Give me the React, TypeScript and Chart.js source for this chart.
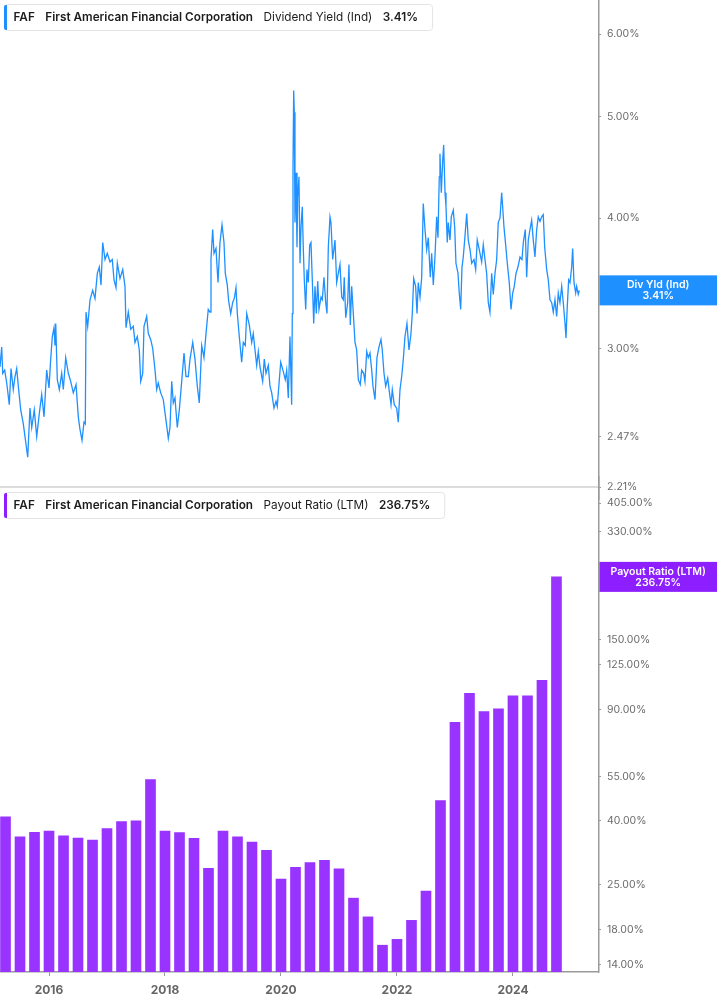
import React, { useEffect, useRef } from 'react';
import { Chart, registerables } from 'chart.js';

Chart.register(...registerables);
Chart.defaults.font.family = 'Inter';

// ---------- Dividend yield (Ind), % ----------
const yieldDates = [
  2015.155, 2015.184, 2015.202, 2015.236, 2015.271, 2015.315, 2015.345, 2015.384, 2015.414, 2015.443,
  2015.471, 2015.512, 2015.557, 2015.586, 2015.633, 2015.672, 2015.702, 2015.746, 2015.788, 2015.833,
  2015.874, 2015.914, 2015.960, 2016.000, 2016.029, 2016.057, 2016.086, 2016.103, 2016.116, 2016.143,
  2016.178, 2016.219, 2016.247, 2016.288, 2016.333, 2016.374, 2016.419, 2016.466, 2016.505, 2016.534,
  2016.569, 2016.603, 2016.626, 2016.638, 2016.667, 2016.707, 2016.753, 2016.793, 2016.833, 2016.867,
  2016.897, 2016.926, 2016.966, 2017.005, 2017.052, 2017.091, 2017.121, 2017.155, 2017.178, 2017.224,
  2017.271, 2017.310, 2017.328, 2017.367, 2017.409, 2017.453, 2017.483, 2017.522, 2017.557, 2017.581,
  2017.616, 2017.638, 2017.684, 2017.712, 2017.753, 2017.788, 2017.828, 2017.857, 2017.884, 2017.926,
  2017.971, 2018.017, 2018.057, 2018.086, 2018.116, 2018.143, 2018.172, 2018.212, 2018.247, 2018.288,
  2018.328, 2018.362, 2018.402, 2018.431, 2018.478, 2018.517, 2018.557, 2018.591, 2018.633, 2018.672,
  2018.707, 2018.746, 2018.776, 2018.793, 2018.822, 2018.845, 2018.879, 2018.914, 2018.948, 2018.983,
  2019.017, 2019.040, 2019.074, 2019.098, 2019.133, 2019.167, 2019.195, 2019.224, 2019.247, 2019.281,
  2019.322, 2019.350, 2019.384, 2019.409, 2019.453, 2019.495, 2019.522, 2019.552, 2019.581, 2019.609,
  2019.638, 2019.684, 2019.712, 2019.741, 2019.781, 2019.810, 2019.840, 2019.879, 2019.914, 2019.936,
  2019.971, 2019.995, 2020.040, 2020.074, 2020.098, 2020.126, 2020.155, 2020.184, 2020.195, 2020.207,
  2020.219, 2020.229, 2020.241, 2020.259, 2020.276, 2020.288, 2020.310, 2020.328, 2020.345, 2020.367,
  2020.384, 2020.402, 2020.426, 2020.448, 2020.471, 2020.495, 2020.517, 2020.540, 2020.564, 2020.586,
  2020.609, 2020.633, 2020.655, 2020.690, 2020.712, 2020.741, 2020.771, 2020.793, 2020.816, 2020.845,
  2020.862, 2020.891, 2020.931, 2020.960, 2020.988, 2021.017, 2021.047, 2021.074, 2021.091, 2021.116,
  2021.150, 2021.172, 2021.195, 2021.219, 2021.247, 2021.276, 2021.305, 2021.333, 2021.367, 2021.391,
  2021.426, 2021.448, 2021.478, 2021.505, 2021.534, 2021.564, 2021.586, 2021.621, 2021.655, 2021.690,
  2021.724, 2021.746, 2021.776, 2021.805, 2021.840, 2021.867, 2021.897, 2021.919, 2021.953, 2021.995,
  2022.022, 2022.052, 2022.081, 2022.109, 2022.138, 2022.172, 2022.207, 2022.241, 2022.264, 2022.288,
  2022.322, 2022.345, 2022.367, 2022.397, 2022.426, 2022.453, 2022.483, 2022.512, 2022.540, 2022.574,
  2022.598, 2022.626, 2022.655, 2022.684, 2022.707, 2022.729, 2022.741, 2022.764, 2022.788, 2022.805,
  2022.828, 2022.845, 2022.867, 2022.884, 2022.914, 2022.936, 2022.971, 2022.995, 2023.017, 2023.052,
  2023.074, 2023.098, 2023.121, 2023.143, 2023.167, 2023.202, 2023.229, 2023.259, 2023.288, 2023.328,
  2023.357, 2023.384, 2023.419, 2023.460, 2023.488, 2023.517, 2023.546, 2023.574, 2023.603, 2023.633,
  2023.660, 2023.690, 2023.719, 2023.746, 2023.776, 2023.805, 2023.822, 2023.845, 2023.874, 2023.902,
  2023.936, 2023.966, 2023.995, 2024.022, 2024.052, 2024.086, 2024.121, 2024.155, 2024.178, 2024.212,
  2024.236, 2024.264, 2024.293, 2024.322, 2024.350, 2024.379, 2024.409, 2024.436, 2024.466, 2024.495,
  2024.522, 2024.547, 2024.581, 2024.609, 2024.638, 2024.667, 2024.695, 2024.724, 2024.753, 2024.781,
  2024.810, 2024.840, 2024.867, 2024.897, 2024.914, 2024.936, 2024.960, 2024.983, 2025.012, 2025.029,
  2025.052, 2025.081, 2025.098, 2025.126, 2025.143,
];

const yieldValues = [
  2.88, 3.01, 2.84, 2.86, 2.78, 2.65, 2.87, 2.74, 2.82, 2.87,
  2.76, 2.62, 2.54, 2.47, 2.36, 2.63, 2.52, 2.62, 2.47, 2.60,
  2.71, 2.58, 2.86, 2.75, 2.93, 3.08, 3.14, 3.02, 3.17, 2.80,
  2.74, 2.84, 2.74, 2.94, 2.84, 2.79, 2.72, 2.77, 2.58, 2.51,
  2.45, 2.55, 2.54, 3.25, 3.15, 3.34, 3.41, 3.35, 3.54, 3.59,
  3.45, 3.79, 3.65, 3.70, 3.63, 3.65, 3.49, 3.43, 3.62, 3.50,
  3.57, 3.44, 3.14, 3.25, 3.13, 3.15, 3.04, 3.08, 2.99, 2.79,
  2.84, 3.15, 3.22, 3.10, 3.06, 3.00, 2.86, 2.74, 2.78, 2.72,
  2.68, 2.56, 2.46, 2.52, 2.79, 2.66, 2.69, 2.52, 2.62, 2.79,
  2.97, 2.82, 2.82, 2.93, 3.04, 2.93, 2.76, 2.66, 3.02, 2.94,
  3.10, 3.27, 3.25, 3.65, 3.90, 3.70, 3.74, 3.47, 3.79, 3.94,
  3.79, 3.54, 3.45, 3.33, 3.24, 3.32, 3.35, 3.43, 3.24, 3.08,
  2.91, 3.04, 3.02, 3.24, 3.16, 3.04, 3.10, 2.99, 2.89, 2.98,
  2.88, 2.79, 2.93, 2.84, 2.89, 2.76, 2.72, 2.63, 2.67, 2.64,
  2.80, 2.91, 2.85, 2.80, 2.86, 2.69, 3.08, 2.65, 3.24, 4.47,
  5.30, 5.05, 3.96, 4.42, 3.75, 4.19, 4.38, 3.62, 3.92, 4.10,
  3.75, 3.49, 3.27, 3.57, 3.47, 3.77, 3.79, 3.49, 3.17, 3.44,
  3.24, 3.48, 3.27, 3.36, 3.34, 3.51, 3.32, 3.24, 3.75, 4.01,
  3.96, 3.65, 3.81, 3.47, 3.54, 3.61, 3.36, 3.34, 3.51, 3.21,
  3.32, 3.61, 3.16, 3.44, 3.24, 3.04, 2.99, 2.80, 2.77, 2.86,
  2.84, 2.79, 2.98, 2.94, 2.97, 2.86, 2.76, 2.68, 2.94, 3.01,
  3.06, 2.99, 2.84, 2.76, 2.81, 2.73, 2.65, 2.74, 2.65, 2.63,
  2.55, 2.74, 2.82, 2.93, 3.08, 3.17, 2.99, 3.10, 3.24, 3.50,
  3.44, 3.24, 3.47, 3.36, 3.51, 4.13, 3.90, 3.73, 3.83, 3.51,
  3.70, 3.45, 3.67, 4.01, 3.83, 4.38, 4.61, 4.23, 4.54, 4.70,
  4.23, 4.10, 3.79, 3.96, 3.81, 4.01, 4.07, 3.92, 3.62, 3.54,
  3.39, 3.27, 3.59, 3.67, 3.81, 4.04, 3.81, 3.73, 3.62, 3.65,
  3.57, 3.81, 3.73, 3.63, 3.77, 3.65, 3.54, 3.32, 3.25, 3.54,
  3.38, 3.54, 3.65, 3.96, 4.00, 4.23, 4.10, 3.92, 3.77, 3.62,
  3.47, 3.27, 3.39, 3.44, 3.54, 3.59, 3.67, 3.65, 3.79, 3.90,
  3.51, 3.81, 3.90, 3.98, 3.81, 3.67, 3.90, 4.01, 3.97, 4.01,
  4.03, 3.75, 3.57, 3.49, 3.34, 3.32, 3.25, 3.34, 3.22, 3.39,
  3.32, 3.44, 3.32, 3.17, 3.07, 3.29, 3.49, 3.47, 3.59, 3.74,
  3.47, 3.39, 3.44, 3.38, 3.41,
];

const yieldTicks = [2.21, 2.47, 3.0, 4.0, 5.0, 6.0];
const yieldMin = 2.21;
const yieldMax = 6.47;
const latestYield = 3.41;

// ---------- Payout ratio (LTM), %, quarterly ----------
const payoutQuarters = [
  '2015 Q1', '2015 Q2', '2015 Q3', '2015 Q4',
  '2016 Q1', '2016 Q2', '2016 Q3', '2016 Q4',
  '2017 Q1', '2017 Q2', '2017 Q3', '2017 Q4',
  '2018 Q1', '2018 Q2', '2018 Q3', '2018 Q4',
  '2019 Q1', '2019 Q2', '2019 Q3', '2019 Q4',
  '2020 Q1', '2020 Q2', '2020 Q3', '2020 Q4',
  '2021 Q1', '2021 Q2', '2021 Q3', '2021 Q4',
  '2022 Q1', '2022 Q2', '2022 Q3', '2022 Q4',
  '2023 Q1', '2023 Q2', '2023 Q3', '2023 Q4',
  '2024 Q1', '2024 Q2', '2024 Q3',
];
const payoutValues = [
  41.1, 35.5, 36.7, 37.0,
  35.8, 35.2, 34.7, 37.7,
  39.7, 39.9, 53.9, 37.0,
  36.6, 35.1, 28.2, 37.0,
  35.5, 34.2, 32.2, 26.1,
  28.4, 29.4, 29.9, 28.1,
  22.7, 19.8, 16.1, 16.8,
  19.3, 23.9, 46.3, 81.9,
  101.2, 88.5, 90.3, 99.3,
  99.3, 111.3, 236.75,
];
const payoutTicks = [14, 18, 25, 40, 55, 90, 125, 150, 330, 405];
const payoutMin = 13.24;
const payoutMax = 449.6;
const latestPayout = 236.75;

const yearTicks = [2016, 2018, 2020, 2022, 2024];
const xMin = 2015.155;
const xMax = 2025.466;

const BLUE = '#1e90ff';
const PURPLE_BOX = '#8c1eff';
const PURPLE_BAR = '#9933ff';
const AXIS = '#9a9a9a';
const TICK_TEXT = '#6b6b6b';

function quarterToYear(q: string): number {
  const [y, qq] = q.split(' ');
  return Number(y) + Number(qq.slice(1)) * 0.25;
}

type DecorOpts = {
  metric: string;
  value: string;
  accent: string;
  boxColor: string;
  boxLine1: string;
  boxLine2: string;
  latest: number;
  legendTop: number;
  separator: boolean;
};

function makeDecor(o: DecorOpts) {
  return {
    id: 'decor',
    afterDraw(chart: any) {
      const ctx = chart.ctx as CanvasRenderingContext2D;
      const area = chart.chartArea;
      const ys = chart.scales.y;
      ctx.save();
      if (o.separator) {
        ctx.strokeStyle = '#dcdcdc';
        ctx.lineWidth = 2;
        ctx.beginPath();
        ctx.moveTo(0, area.bottom);
        ctx.lineTo(area.right, area.bottom);
        ctx.stroke();
      }
      // vertical axis line
      ctx.strokeStyle = AXIS;
      ctx.lineWidth = 1.5;
      ctx.beginPath();
      ctx.moveTo(area.right + 0.75, 0);
      ctx.lineTo(area.right + 0.75, o.separator ? chart.height : area.bottom + 0.75);
      ctx.stroke();

      // legend box
      const parts = [
        { t: 'FAF', f: '600 11.75px Inter' },
        { t: 'First American Financial Corporation', f: '600 11.75px Inter' },
        { t: o.metric, f: '400 11.75px Inter' },
        { t: o.value, f: '600 11.75px Inter' },
      ];
      let x = 13.5;
      const xs: number[] = [];
      parts.forEach((p, i) => {
        ctx.font = p.f;
        xs.push(x);
        x += ctx.measureText(p.t).width + (i < parts.length - 1 ? 10.5 : 0);
      });
      const top = o.legendTop;
      const boxW = x + 14 - 4;
      ctx.beginPath();
      (ctx as any).roundRect(4.5, top + 0.5, boxW, 26, 3);
      ctx.fillStyle = '#ffffff';
      ctx.fill();
      ctx.strokeStyle = '#e4e4e4';
      ctx.lineWidth = 1;
      ctx.stroke();
      ctx.beginPath();
      (ctx as any).roundRect(4, top + 1, 3, 25, [2, 0, 0, 2]);
      ctx.fillStyle = o.accent;
      ctx.fill();
      ctx.fillStyle = '#1c1c1c';
      ctx.textBaseline = 'middle';
      ctx.textAlign = 'left';
      parts.forEach((p, i) => {
        ctx.font = p.f;
        ctx.fillText(p.t, xs[i], top + 13.5);
      });

      // latest value box on axis
      const py = ys.getPixelForValue(o.latest);
      const bx = area.right + 1.5;
      ctx.fillStyle = o.boxColor;
      ctx.fillRect(bx, py - 15, chart.width - bx, 30);
      ctx.fillStyle = '#ffffff';
      ctx.font = '600 10.5px Inter';
      ctx.textAlign = 'center';
      const cx = (bx + chart.width) / 2;
      ctx.fillText(o.boxLine1, cx, py - 5.5);
      ctx.fillText(o.boxLine2, cx, py + 5.5);
      ctx.restore();
    },
  };
}

function yAxis(min: number, max: number, ticks: number[]) {
  return {
    type: 'logarithmic' as const,
    position: 'right' as const,
    min,
    max,
    bounds: 'data' as const,
    afterBuildTicks: (s: any) => {
      s.ticks = ticks.map((v) => ({ value: v }));
    },
    afterFit: (s: any) => {
      s.width = 119;
      s.paddingTop = 0;
      s.paddingBottom = 0;
    },
    grid: { drawOnChartArea: false, drawTicks: true, tickLength: 3, color: AXIS, lineWidth: 1 },
    border: { display: false },
    ticks: {
      autoSkip: false,
      padding: 6,
      color: TICK_TEXT,
      font: { family: 'Inter', size: 10.5 },
      callback: (v: any) => Number(v).toFixed(2) + '%',
    },
  };
}

export default function App() {
  const topRef = useRef<HTMLCanvasElement>(null);
  const botRef = useRef<HTMLCanvasElement>(null);

  useEffect(() => {
    const top = new Chart(topRef.current as HTMLCanvasElement, {
      type: 'line',
      data: {
        datasets: [
          {
            data: yieldDates.map((d, i) => ({ x: d, y: yieldValues[i] })),
            borderColor: BLUE,
            borderWidth: 1.3,
            pointRadius: 0,
            tension: 0,
            fill: false,
          },
        ],
      },
      options: {
        responsive: false,
        animation: false,
        events: [],
        layout: { padding: { top: 0, bottom: 13, left: 0, right: 0 } },
        plugins: { legend: { display: false }, tooltip: { enabled: false } },
        scales: {
          x: { type: 'linear', display: false, min: xMin, max: xMax },
          y: yAxis(yieldMin, yieldMax, yieldTicks) as any,
        },
      },
      plugins: [
        makeDecor({
          metric: 'Dividend Yield (Ind)',
          value: latestYield.toFixed(2) + '%',
          accent: BLUE,
          boxColor: BLUE,
          boxLine1: 'Div Yld (Ind)',
          boxLine2: latestYield.toFixed(2) + '%',
          latest: latestYield,
          legendTop: 4,
          separator: true,
        }),
      ],
    } as any);

    const bot = new Chart(botRef.current as HTMLCanvasElement, {
      type: 'bar',
      data: {
        datasets: [
          {
            data: payoutQuarters.map((q, i) => ({ x: quarterToYear(q), y: payoutValues[i] })),
            backgroundColor: PURPLE_BAR,
            borderWidth: 0,
            barThickness: 10,
          },
        ],
      },
      options: {
        responsive: false,
        animation: false,
        events: [],
        layout: { padding: { top: 13, bottom: 0, left: 0, right: 0 } },
        plugins: { legend: { display: false }, tooltip: { enabled: false } },
        scales: {
          x: {
            type: 'linear',
            min: xMin,
            max: xMax,
            offset: false,
            afterBuildTicks: (s: any) => {
              s.ticks = yearTicks.map((v) => ({ value: v }));
            },
            afterFit: (s: any) => {
              s.height = 33;
              s.paddingLeft = 0;
              s.paddingRight = 0;
            },
            grid: { offset: false, drawOnChartArea: false, drawTicks: true, tickLength: 4, color: AXIS },
            border: { display: true, color: AXIS, width: 1.5 },
            ticks: {
              autoSkip: false,
              maxRotation: 0,
              padding: 7,
              color: '#666666',
              font: { family: 'Inter', size: 12, weight: 'bold' },
              callback: (v: any) => String(v),
            },
          },
          y: yAxis(payoutMin, payoutMax, payoutTicks) as any,
        },
      },
      plugins: [
        makeDecor({
          metric: 'Payout Ratio (LTM)',
          value: latestPayout.toFixed(2) + '%',
          accent: PURPLE_BOX,
          boxColor: PURPLE_BOX,
          boxLine1: 'Payout Ratio (LTM)',
          boxLine2: latestPayout.toFixed(2) + '%',
          latest: latestPayout,
          legendTop: 16,
          separator: false,
        }),
      ],
    } as any);

    return () => {
      top.destroy();
      bot.destroy();
    };
  }, []);

  return (
    <div style={{ position: 'absolute', left: 0, top: 0, width: 717, height: 1005, background: '#ffffff', overflow: 'hidden' }}>
      <canvas ref={botRef} width={717} height={529} style={{ position: 'absolute', left: 0, top: 476, width: 717, height: 529 }} />
      <canvas ref={topRef} width={717} height={500} style={{ position: 'absolute', left: 0, top: 0, width: 717, height: 500 }} />
    </div>
  );
}
